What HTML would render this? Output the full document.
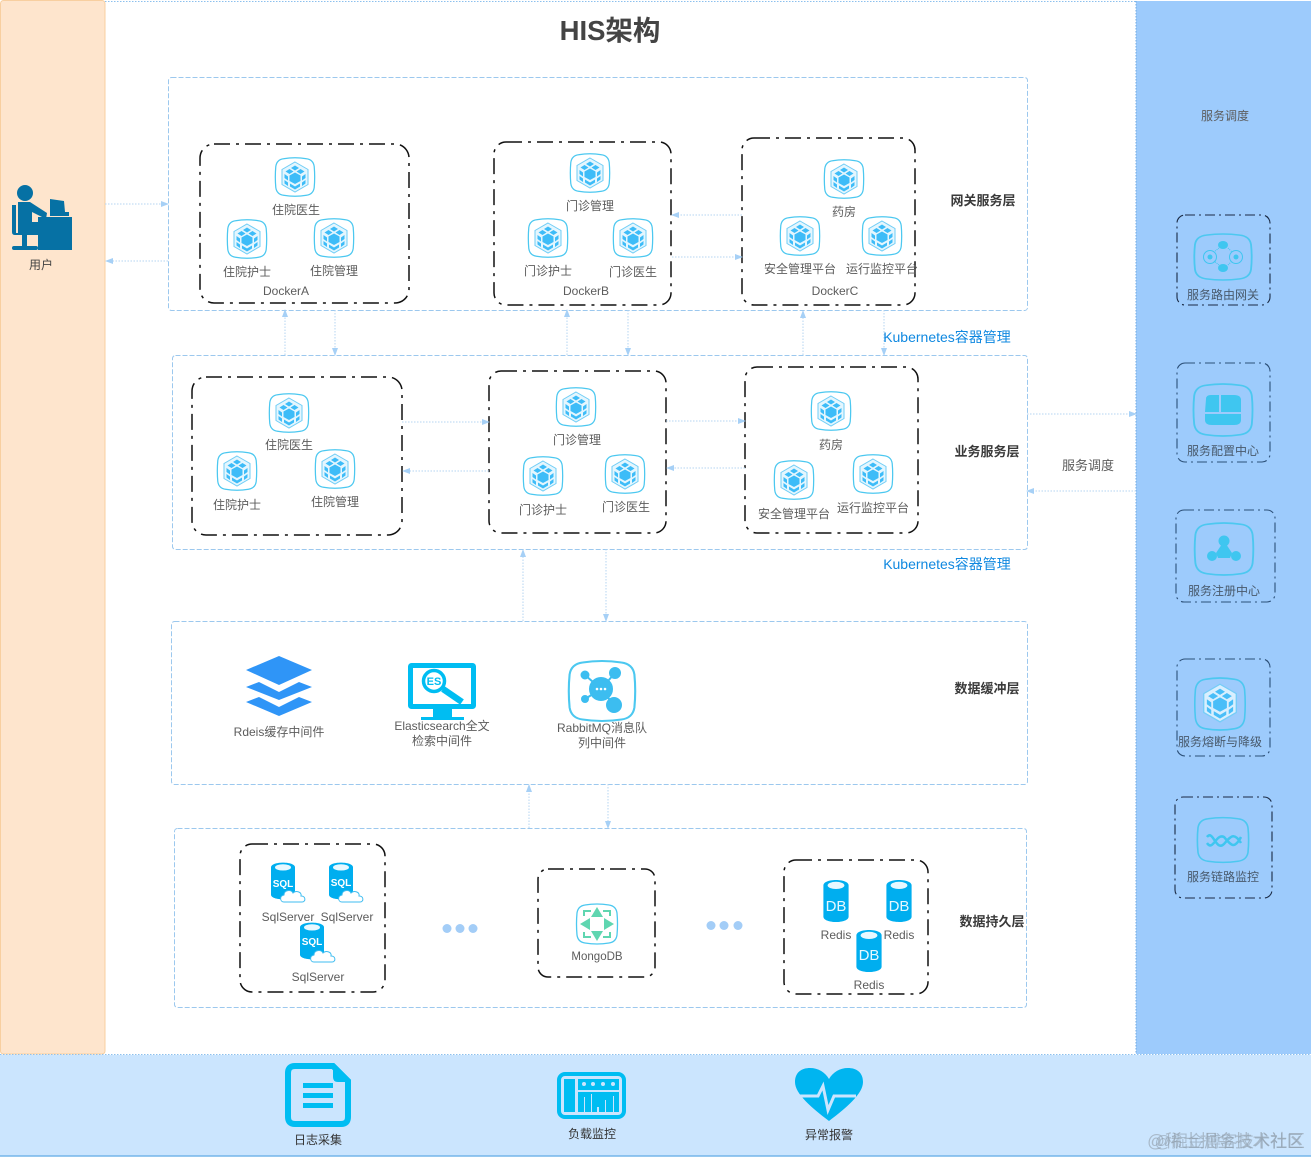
<!DOCTYPE html>
<html><head><meta charset="utf-8"><style>
html,body{margin:0;padding:0;background:#fff}
svg{display:block}
text{font-family:"Liberation Sans","Noto Sans CJK SC",sans-serif;font-size:12px;fill:#5c5c5c;text-anchor:middle}
.l{font-weight:700;font-size:13px;fill:#3a3a3a}
.k{font-size:14px;fill:#0f88e0}
.layer{fill:none;stroke:#9cc8ee;stroke-width:1;stroke-dasharray:5 2}
.dk{fill:none;stroke:#111;stroke-width:1.5;stroke-dasharray:16 6 3 6}
.rk{fill:none;stroke-width:1.1;stroke-dasharray:10 4 2 4}
.a{stroke:#b4d4f2;stroke-width:1;stroke-dasharray:1.5 1.5;fill:none;marker-end:url(#ar)}
.wh{fill:#fff;font-weight:700}
</style></head><body>
<svg width="1311" height="1158" viewBox="0 0 1311 1158" xmlns="http://www.w3.org/2000/svg">
<defs>
<marker id="ar" markerWidth="8" markerHeight="6" refX="7" refY="3" orient="auto" markerUnits="userSpaceOnUse"><path d="M0 0L8 3L0 6Z" fill="#a6d0f6"/></marker>
<path id="sq" d="M-12-19Q0-21 12-19Q19-18 20-11Q21 0 20 11Q19 18 12 19Q0 21-12 19Q-19 18-20 11Q-21 0-20-11Q-19-18-12-19Z" fill="none" stroke="#4cc8f0" stroke-width="1.3"/>
<g id="cube">
<path d="M0-15L13-7.500V7.500L0 15L-13 7.500V-7.500Z" fill="#e4f6fe" stroke="#6fcdf6" stroke-width="1"/>
<path d="M0-11.500L4-9L0-6.500L-4-9Z M-5.500-8L-1.500-5.500L-5.500-3L-9.500-5.500Z M5.500-8L9.500-5.500L5.500-3L1.500-5.500Z" fill="#3dbcf8"/>
<path d="M0-4.500L5.500-1.500V4L0 7L-5.500 4V-1.500Z" fill="#3dbcf8"/>
<path d="M-10.500-3L-7-.5V3.500L-10.500 1Z M10.500-3L7-.5V3.500L10.500 1Z M-10.500 3L-7 5.500V9L-10.500 6.500Z M10.500 3L7 5.500V9L10.500 6.500Z M-5 6.500L0 9.500L5 6.500V9.500L0 12.500L-5 9.500Z" fill="#3dbcf8"/>
</g>
<g id="hex"><use href="#sq" transform="scale(.96)"/><use href="#cube"/></g>
<g id="hexb"><use href="#sq" transform="scale(.96)"/><use href="#cube"/></g>
<g id="cyl">
<path d="M-12-13C-12-19 12-19 12-13V13C12 19-12 19-12 13Z" fill="#00aeef"/>
<ellipse cx="0" cy="-13" rx="8" ry="3" fill="#e8f8ff"/>
</g>
<g id="cloud"><path d="M-11 5C-15 5-16-1-11-2C-11-7-4-8-2-4C1-7 7-5 6-1C11-1 11 5 7 5Z" fill="#fff" stroke="#3fbdf0" stroke-width="1"/></g>
</defs>

<rect width="1311" height="1158" fill="#fff"/>
<line x1="105" y1="1.500" x2="1136" y2="1.500" stroke="#8cc0ee" stroke-dasharray="1.500 1.500"/>
<rect x=".5" y=".5" width="104.500" height="1053.500" rx="3" fill="#fee5cd" stroke="#f8cfa0"/>
<rect x="1136" y="1" width="175" height="1053" fill="#9dcbfc"/>
<line x1="1136" y1="1" x2="1136" y2="1054" stroke="#6fa8e0" stroke-dasharray="1.500 1.500"/>
<rect x="0" y="1055" width="1311" height="101" fill="#cbe5fe"/>
<line x1="0" y1="1054.500" x2="1311" y2="1054.500" stroke="#8cc0ee" stroke-dasharray="1.500 1.500"/>
<line x1="0" y1="1156" x2="1311" y2="1156" stroke="#74b5ea" stroke-width="1.500"/>

<text x="610" y="40" style="font-size:27.500px;font-weight:700;fill:#444">HIS架构</text>

<rect class="layer" x="168.500" y="77.500" width="859" height="233" rx="3"/>
<rect class="layer" x="172.500" y="355.500" width="855" height="194" rx="3"/>
<rect class="layer" x="171.500" y="621.500" width="856" height="163" rx="3"/>
<rect class="layer" x="174.500" y="828.500" width="852" height="179" rx="3"/>

<rect class="dk" x="200" y="144" width="209" height="159" rx="14"/>
<rect class="dk" x="494" y="142" width="177" height="163" rx="12"/>
<rect class="dk" x="742" y="138" width="173" height="167" rx="12"/>
<rect class="dk" x="192" y="377" width="210" height="158" rx="14"/>
<rect class="dk" x="489" y="371" width="177" height="162" rx="12"/>
<rect class="dk" x="745" y="367" width="173" height="166" rx="12"/>
<rect class="dk" x="240" y="844" width="145" height="148" rx="12"/>
<rect class="dk" x="538" y="869" width="117" height="108" rx="10"/>
<rect class="dk" x="784" y="860" width="144" height="134" rx="12"/>
<rect class="rk" x="1177" y="215" width="93" height="90" rx="8" stroke="#1a2a44"/>
<rect class="rk" x="1177" y="363" width="93" height="99" rx="8" stroke="#2c5078"/>
<rect class="rk" x="1176" y="510" width="99" height="92" rx="8" stroke="#2c5078"/>
<rect class="rk" x="1177" y="659" width="93" height="97" rx="8" stroke="#2c5078"/>
<rect class="rk" x="1175" y="797" width="97" height="101" rx="8" stroke="#1a2a44"/>

<!-- arrows -->
<path class="a" d="M105 204H168"/><path class="a" d="M168 261H106"/>
<path class="a" d="M285 355V310"/><path class="a" d="M335 310V355"/>
<path class="a" d="M567 355V310"/><path class="a" d="M628 310V355"/>
<path class="a" d="M803 355V311"/><path class="a" d="M884 310V355"/>
<path class="a" d="M742 215H672"/><path class="a" d="M672 257H742"/>
<path class="a" d="M402 422H489"/><path class="a" d="M489 471H403"/>
<path class="a" d="M666 421H745"/><path class="a" d="M745 468H667"/>
<path class="a" d="M523 621V550"/><path class="a" d="M606 549V621"/>
<path class="a" d="M529 828V785"/><path class="a" d="M608 784V828"/>
<path class="a" d="M1027 414H1136"/><path class="a" d="M1136 491H1027"/>

<!-- hex icons -->
<use href="#hex" x="295" y="177"/><use href="#hex" x="247" y="239"/><use href="#hex" x="334" y="238"/>
<use href="#hex" x="590" y="173"/><use href="#hex" x="548" y="238"/><use href="#hex" x="633" y="238"/>
<use href="#hex" x="844" y="179"/><use href="#hex" x="800" y="236"/><use href="#hex" x="882" y="236"/>
<use href="#hex" x="289" y="413"/><use href="#hex" x="237" y="471"/><use href="#hex" x="335" y="469"/>
<use href="#hex" x="576" y="407"/><use href="#hex" x="543" y="476"/><use href="#hex" x="625" y="474"/>
<use href="#hex" x="831" y="411"/><use href="#hex" x="794" y="480"/><use href="#hex" x="873" y="474"/>

<text x="296" y="214">住院医生</text><text x="247" y="276">住院护士</text><text x="334" y="275">住院管理</text><text x="286" y="295">DockerA</text>
<text x="590" y="210">门诊管理</text><text x="548" y="275">门诊护士</text><text x="633" y="276">门诊医生</text><text x="586" y="295">DockerB</text>
<text x="844" y="216">药房</text><text x="800" y="273">安全管理平台</text><text x="882" y="273">运行监控平台</text><text x="835" y="295">DockerC</text>
<text x="289" y="449">住院医生</text><text x="237" y="509">住院护士</text><text x="335" y="506">住院管理</text>
<text x="577" y="444">门诊管理</text><text x="543" y="514">门诊护士</text><text x="626" y="511">门诊医生</text>
<text x="831" y="449">药房</text><text x="794" y="518">安全管理平台</text><text x="873" y="512">运行监控平台</text>

<text class="l" x="983" y="205">网关服务层</text>
<text class="l" x="987" y="456">业务服务层</text>
<text class="l" x="987" y="693">数据缓冲层</text>
<text class="l" x="992" y="926">数据持久层</text>
<text class="k" x="947" y="342">Kubernetes容器管理</text>
<text class="k" x="947" y="569">Kubernetes容器管理</text>
<text x="1088" y="470" style="font-size:13px">服务调度</text>
<text x="1225" y="120">服务调度</text>

<!-- user -->
<g fill="#0671a4">
<circle cx="25" cy="193" r="8"/>
<path d="M18 202H30L47 213L46 219L32 212V222H38V235H18Z"/>
<path d="M12 205H16V233H37V235H15Q12 235 12 232Z"/>
<rect x="22" y="235" width="5" height="11"/><rect x="12" y="246" width="26" height="4" rx="2"/>
<rect x="38" y="217" width="34" height="33"/>
<path d="M50 199L64 201L65 212H50Z"/><rect x="50" y="212" width="19" height="4"/>
</g>
<text x="41" y="269" style="fill:#444">用户</text>

<!-- data buffer -->
<g fill="#2f95f7">
<path d="M279 656L312 670L279 685L246 670Z"/>
<path d="M246 687L259 682L279 692L299 682L312 687L279 700Z"/>
<path d="M246 702L259 697L279 707L299 697L312 702L279 716Z"/>
</g>
<text x="279" y="736">Rdeis缓存中间件</text>
<rect x="410.500" y="665.500" width="63" height="41" rx="1" fill="#fff" stroke="#00bdf2" stroke-width="5"/>
<path d="M433 708H452V717H464V720H421V717H433Z" fill="#00bdf2"/>
<path d="M443 689L462 702" stroke="#00bdf2" stroke-width="6.500"/>
<circle cx="434" cy="681" r="10.500" fill="#fff" stroke="#00bdf2" stroke-width="3.500"/>
<text x="434" y="685" style="font-size:11px;font-weight:700;fill:#00bdf2">ES</text>
<text x="442" y="730">Elasticsearch全文</text><text x="442" y="745">检索中间件</text>
<use href="#sq" transform="translate(602 691) scale(1.620 1.500)" style="stroke-width:1"/>
<g fill="#3cbdf0" stroke="#3cbdf0" stroke-width="2">
<path d="M585 675L601 689M615 673L601 689M585 699L601 689M614 705L601 689" fill="none"/>
<circle cx="585" cy="675" r="3.500"/><circle cx="615" cy="673" r="5"/><circle cx="585" cy="699" r="3"/><circle cx="614" cy="705" r="7"/>
<circle cx="601" cy="689" r="11"/>
</g>
<g fill="#fff"><circle cx="597" cy="689" r="1.300"/><circle cx="601" cy="689" r="1.300"/><circle cx="605" cy="689" r="1.300"/></g>
<text x="602" y="732">RabbitMQ消息队</text><text x="602" y="747">列中间件</text>

<!-- persist -->
<use href="#cyl" transform="translate(283 881) scale(1 1.050)"/><use href="#cyl" transform="translate(341 881) scale(1 1.050)"/><use href="#cyl" transform="translate(312 941) scale(1 1.050)"/>
<text class="wh" x="283" y="887" style="font-size:10px">SQL</text><text class="wh" x="341" y="886" style="font-size:10px">SQL</text><text class="wh" x="312" y="945" style="font-size:10px">SQL</text>
<use href="#cloud" x="295" y="897"/><use href="#cloud" x="353" y="897"/><use href="#cloud" x="325" y="957"/>
<text x="288" y="921">SqlServer</text><text x="347" y="921">SqlServer</text><text x="318" y="981">SqlServer</text>
<use href="#sq" transform="translate(597 924)" style="stroke:#62d6b2"/>
<g fill="#5fd6b0"><path d="M597 907L603 917H591Z M597 941L603 931H591Z M580 924L590 918V930Z M614 924L604 918V930Z"/></g>
<path d="M584 916V911H591M603 911H610V916M584 932V937H591M603 937H610V932" fill="none" stroke="#5fd6b0" stroke-width="2"/>
<text x="597" y="960" style="font-size:11.500px">MongoDB</text>
<use href="#cyl" transform="translate(836 901) scale(1.050 1.200)"/><use href="#cyl" transform="translate(899 901) scale(1.050 1.200)"/><use href="#cyl" transform="translate(869 951) scale(1.050 1.200)"/>
<text x="836" y="911" style="font-size:15px;fill:#e6f8ff">DB</text><text x="899" y="911" style="font-size:15px;fill:#e6f8ff">DB</text><text x="869" y="960" style="font-size:15px;fill:#e6f8ff">DB</text>
<text x="836" y="939">Redis</text><text x="899" y="939">Redis</text><text x="869" y="989">Redis</text>
<g fill="#a3cdf7"><circle cx="447" cy="928.500" r="4.500"/><circle cx="460" cy="928.500" r="4.500"/><circle cx="473" cy="928.500" r="4.500"/><circle cx="711" cy="925.500" r="4.500"/><circle cx="724" cy="925.500" r="4.500"/><circle cx="738" cy="925.500" r="4.500"/></g>

<!-- right panel -->
<use href="#sq" transform="translate(1223 257) scale(1.400 1.150)"/>
<g fill="#3fc6f0"><ellipse cx="1223" cy="245" rx="5" ry="4"/><ellipse cx="1223" cy="268" rx="5" ry="4"/><circle cx="1210" cy="257" r="2.500"/><circle cx="1236" cy="257" r="2.500"/></g>
<circle cx="1210" cy="257" r="6.500" fill="none" stroke="#3fc6f0"/><circle cx="1236" cy="257" r="6.500" fill="none" stroke="#3fc6f0"/>
<path d="M1219 248L1214 252M1228 248L1232 252M1219 265L1214 261M1228 265L1232 261" stroke="#3fc6f0" stroke-dasharray="1 1"/>
<use href="#sq" transform="translate(1223 410) scale(1.440 1.300)"/>
<path d="M1206 399Q1206 395 1211 395H1219V412H1205Z M1221 395H1234Q1241 395 1241 400V412H1221Z M1205 414H1241V420Q1241 425 1234 425H1212Q1205 425 1205 420Z" fill="#3fc6f0"/>
<use href="#sq" transform="translate(1224 549) scale(1.430 1.300)"/>
<g fill="#3fc6f0"><circle cx="1224" cy="541" r="5.500"/><circle cx="1212" cy="556" r="5"/><circle cx="1236" cy="556" r="5"/><path d="M1216 553L1222 544L1226 544L1232 553L1230 558H1218Z"/></g>
<use href="#sq" transform="translate(1220 704) scale(1.230 1.300)"/>
<g style="opacity:.95"><path d="M1220 684L1237 694V713L1220 723L1203 713V694Z" fill="#6fcdf6" opacity=".25"/><use href="#cube" transform="translate(1220 703) scale(1.250)" opacity=".9"/></g>
<use href="#sq" transform="translate(1223 840) scale(1.250 1.120)"/>
<path d="M1207 837C1213 829 1216 852 1224 844C1231 836 1234 832 1241 843M1207 843C1213 852 1216 833 1224 837C1231 845 1234 850 1241 837" fill="none" stroke="#3fc6f0" stroke-width="2.500"/>
<g>
<text x="1223" y="299" style="fill:#48596b">服务路由网关</text>
<text x="1223" y="455" style="fill:#48596b">服务配置中心</text>
<text x="1224" y="595" style="fill:#48596b">服务注册中心</text>
<text x="1220" y="746" style="fill:#48596b">服务熔断与降级</text>
<text x="1223" y="881" style="fill:#48596b">服务链路监控</text>
</g>

<!-- bottom -->
<path d="M295 1066H333L348 1081V1117Q348 1124 341 1124H295Q288 1124 288 1117V1073Q288 1066 295 1066Z" fill="none" stroke="#00bdf2" stroke-width="6"/>
<g fill="#00bdf2"><rect x="303" y="1083" width="30" height="5"/><rect x="303" y="1093" width="30" height="5"/><rect x="303" y="1103" width="30" height="5"/>
<path d="M333 1064H335L351 1080V1082H338Q333 1082 333 1077Z"/></g>
<text x="318" y="1144" style="fill:#333">日志采集</text>
<rect x="559" y="1074" width="65" height="43" rx="6" fill="none" stroke="#00bdf2" stroke-width="4"/>
<rect x="564" y="1079" width="11" height="33" fill="#00bdf2"/>
<rect x="578" y="1079" width="41" height="11" fill="#00bdf2"/><rect x="578" y="1092" width="41" height="20" fill="#00bdf2"/>
<g fill="#cbe5fe"><circle cx="584" cy="1084" r="2"/><circle cx="593" cy="1084" r="2"/><circle cx="603" cy="1084" r="2"/><circle cx="613" cy="1084" r="2"/>
<rect x="584" y="1097" width="1" height="15"/><rect x="591" y="1094" width="1" height="18"/><rect x="597" y="1107" width="2" height="5"/><rect x="605" y="1100" width="1" height="12"/><rect x="613" y="1096" width="1" height="16"/></g>
<text x="592" y="1138" style="fill:#333">负载监控</text>
<path d="M829 1121C812 1108 795 1094 795 1082C795 1072 802 1068 810 1068C818 1068 825 1072 829 1079C833 1072 840 1068 848 1068C856 1068 863 1072 863 1082C863 1094 846 1108 829 1121Z" fill="#00b5f0"/>
<path d="M800 1096H818L823 1086L828 1110L834 1096H856" fill="none" stroke="#cbe5fe" stroke-width="3"/>
<text x="829" y="1139" style="fill:#333">异常报警</text>
<text x="1226" y="1147" style="font-size:17.500px;fill:#9aa7b4;opacity:.7">@稀土掘金技术社区</text>
<text x="1229" y="1147" style="font-size:16.500px;fill:#8a99a8;opacity:.55">@掘金博客技术社区</text>
</svg>
</body></html>
